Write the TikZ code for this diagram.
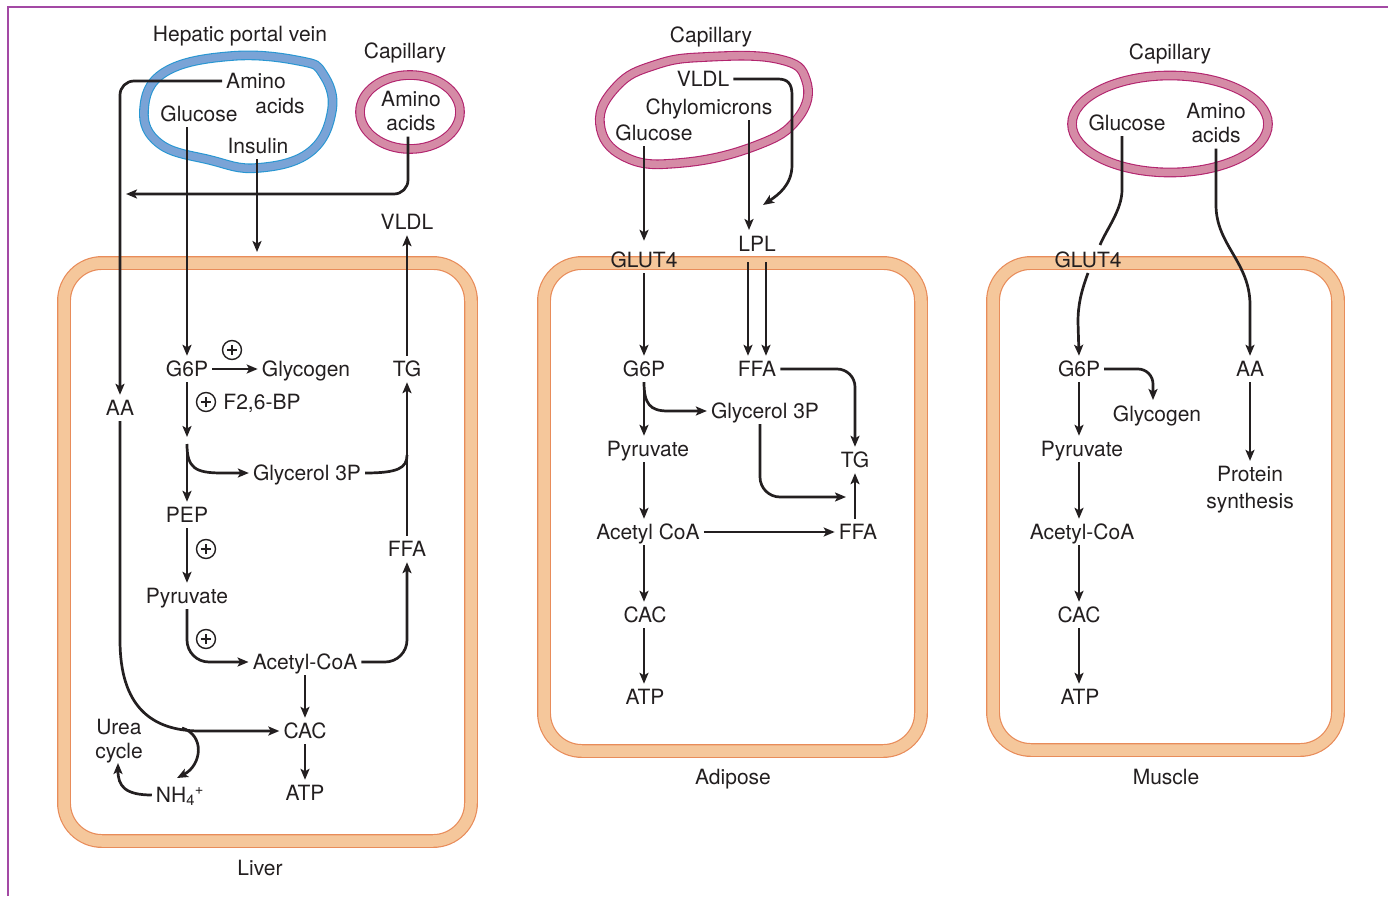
\documentclass[tikz,border=0pt]{standalone}
\usepackage{fontspec}
\setmainfont{TeX Gyre Heros}
\usetikzlibrary{arrows.meta}
\definecolor{ink}{RGB}{35,31,32}
\definecolor{orFill}{RGB}{245,199,155}
\definecolor{orEdge}{RGB}{232,140,90}
\definecolor{pkFill}{RGB}{213,139,166}
\definecolor{pkEdge}{RGB}{178,36,110}
\definecolor{blFill}{RGB}{122,163,214}
\definecolor{blEdge}{RGB}{40,150,210}
\definecolor{frame}{RGB}{163,73,164}
\begin{document}
\begin{tikzpicture}[x=1pt,y=-1pt,
  every node/.style={font=\fontsize{21}{24}\selectfont, text=ink},
  lab/.style={text height=15pt, text depth=0pt, inner xsep=4pt, inner ysep=5.5pt},
  mlab/.style={align=center, inner xsep=4pt, inner ysep=5.5pt},
  arr/.style={draw=ink, line width=2.7pt, -{Stealth[length=11pt,width=9pt,inset=2.5pt]}},
  ln/.style={draw=ink, line width=2.7pt},
  cellband/.style={draw=orEdge, line width=1.2pt, double=orFill, double distance=11.5pt, rounded corners=38pt},
  pkband/.style={draw=pkEdge, line width=1.1pt, double=pkFill, double distance=7.5pt},
  blband/.style={draw=blEdge, line width=1.1pt, double=blFill, double distance=7.5pt},
  pc/.style={circle, draw=ink, line width=1.4pt, minimum size=19pt, inner sep=0pt,
    path picture={\draw[ink, line width=1.8pt] ([xshift=-5pt]path picture bounding box.center) -- ([xshift=5pt]path picture bounding box.center);
                  \draw[ink, line width=1.8pt] ([yshift=-5pt]path picture bounding box.center) -- ([yshift=5pt]path picture bounding box.center);}}
]
\useasboundingbox (0,0) rectangle (1388,896);
% frame
\draw[frame, line width=2.6pt] (8,896) -- (8,7) -- (1388,7);

% cells
\draw[cellband] (64,263) rectangle (471,841);
\draw[cellband] (544,263) rectangle (921,751);
\draw[cellband] (993,263) rectangle (1338,750);

% vessels
\draw[blband] plot[smooth cycle, tension=0.7] coordinates {(232,56) (300,61) (323,74) (332,110) (310,152) (257,168) (210,160) (160,144) (144,110) (165,72)};
\draw[pkband] (410,112) ellipse [x radius=50, y radius=37];
\draw[pkband] plot[smooth cycle, tension=0.75] coordinates {(705,57) (778,59) (806,80) (798,118) (755,146) (680,163) (625,157) (600,124) (617,86) (655,65)};
\draw[pkband] (1170,124) ellipse [x radius=98, y radius=48.5];

% ---------------- Liver ----------------
\node[lab] (lhpv) at (240,34) {Hepatic portal vein};
\node[lab] (lcap) at (405,51) {Capillary};
\node[lab] (lamino) at (256,81) {Amino};
\node[lab] (lacids) at (280,106) {acids};
\node[lab] (lglu) at (199,114) {Glucose};
\node[lab] (lins) at (258,146) {Insulin};
\node[mlab] (lcapaa) at (411,111) {Amino\\acids};
\node[lab] (lVLDL) at (407,222) {VLDL};
\node[lab] (lg6p) at (187,369) {G6P};
\node[lab] (lglyc) at (306,369) {Glycogen};
\node[lab] (lTG) at (407,369) {TG};
\node[lab] (lAA) at (120,408) {AA};
\node[lab] (lf26) at (262,402) {F2,6-BP};
\node[lab] (lgly3) at (307,473) {Glycerol 3P};
\node[lab] (lPEP) at (187,515) {PEP};
\node[lab] (lFFA) at (407,549) {FFA};
\node[lab] (lpyr) at (187,596) {Pyruvate};
\node[lab] (lacc) at (305,662) {Acetyl-CoA};
\node[lab] (lCAC) at (305,731) {CAC};
\node[lab] (lATP) at (305,793) {ATP};
\node[lab] (lNH) at (180,795) {NH\textsubscript{4}\textsuperscript{+}};
\node[mlab] (lurea) at (119,741) {Urea\\cycle};
\node[lab] (lliver) at (260,868) {Liver};
\node[pc] (lp1) at (232,350) {};
\node[pc] (lp2) at (206,402) {};
\node[pc] (lp3) at (206,549) {};
\node[pc] (lp4) at (206,639) {};

\coordinate (lAAin) at (126,194);
\coordinate (linsend) at (257,252);
\coordinate (lmid1) at (187,437);
\coordinate (lmid2) at (187,444);
\coordinate (ljoin) at (407,455);
\coordinate (lcurve) at (200,731);
\coordinate (lbr) at (182,728);
\coordinate (lnhtip) at (177,778);
\coordinate (lureatip) at (118,763);

\draw[arr, rounded corners=14pt] (lamino.west) -| (lAA.north);
\draw[arr] (lAA.south) -- (120,640) .. controls (120,705) and (150,731) .. (lcurve) -- (lCAC.west);
\draw[arr] (lbr) .. controls (205,735) and (202,765) .. (lnhtip);
\draw[arr] (lNH.west) .. controls (125,795) and (118,786) .. (lureatip);
\draw[arr, rounded corners=14pt] ([xshift=-3pt]lcapaa.south) |- (lAAin);
\draw[arr] (lg6p |- lglu.south) -- (lg6p.north);
\draw[arr] (lins.south -| linsend) -- (linsend);
\draw[arr] (lTG.north) -- (lVLDL.south);
\draw[arr] (lg6p.east) -- (lglyc.west);
\draw[arr] (lg6p.south) -- (lmid1);
\draw[arr] (lmid2) -- (lPEP.north);
\draw[arr] (lmid2) .. controls (187,468) and (195,473) .. (222,473) -- (lgly3.west);
\draw[ln] (lgly3.east) .. controls (398,473) and (407,468) .. (ljoin);
\draw[arr] (lFFA.north) -- (lTG.south);
\draw[arr] (lPEP.south) -- (lpyr.north);
\draw[arr, rounded corners=22pt] (lpyr.south) |- (lacc.west);
\draw[arr, rounded corners=22pt] (lacc.east) -| (lFFA.south);
\draw[arr] (lacc.south) -- (lCAC.north);
\draw[arr] (lCAC.south) -- (lATP.north);

% ---------------- Adipose ----------------
\node[lab] (acap) at (711,35) {Capillary};
\node[lab] (aVLDL) at (703,79) {VLDL};
\node[lab] (achy) at (709,107) {Chylomicrons};
\node[lab] (aglu) at (654,133) {Glucose};
\node[lab] (aLPL) at (757,244) {LPL};
\node[lab] (aGLUT) at (644,260) {GLUT4};
\node[lab] (aG6P) at (644,369) {G6P};
\node[lab] (aFFA) at (757,369) {FFA};
\node[lab] (agly3) at (765,411) {Glycerol 3P};
\node[lab] (apyr) at (648,449) {Pyruvate};
\node[lab] (aTG) at (855,460) {TG};
\node[lab] (aacc) at (648,532) {Acetyl CoA};
\node[lab] (aFFA2) at (858,532) {FFA};
\node[lab] (aCAC) at (645,615) {CAC};
\node[lab] (aATP) at (645,697) {ATP};
\node[lab] (aname) at (733,777) {Adipose};

\coordinate (aLPLtop) at (749,230);
\coordinate (avl) at (763,205);
\coordinate (aTGin) at (846,497);

\draw[arr] (aVLDL.east) -- (778,79) .. controls (788,79) and (792,84) .. (792,95) -- (792,165) .. controls (792,185) and (778,195) .. (avl);
\draw[arr] (achy.south -| aLPLtop) -- (aLPLtop);
\draw[arr, shorten >=6pt] (aGLUT |- aglu.south) -- (aGLUT.north);
\draw[arr] (aGLUT.south) -- (aG6P.north);
\draw[arr, shorten <=5pt] ([xshift=-9pt]aLPL.south) -- ([xshift=-9pt]aFFA.north);
\draw[arr, shorten <=5pt] ([xshift=9pt]aLPL.south) -- ([xshift=9pt]aFFA.north);
\draw[arr] (aG6P.south) -- (aG6P.south |- apyr.north);
\draw[arr] (aG6P.south) .. controls (644,404) and (650,411) .. (668,411) -- (agly3.west);
\draw[arr, rounded corners=18pt] (aFFA.east) -| (aTG.north);
\draw[arr, rounded corners=20pt] ([xshift=-5pt]agly3.south) |- (aTGin);
\draw[arr] (aFFA2.north -| aTG) -- (aTG.south);
\draw[arr] (aG6P |- apyr.south) -- (aG6P |- aacc.north);
\draw[arr] (aacc.east) -- (aFFA2.west);
\draw[arr] (aG6P |- aacc.south) -- (aG6P |- aCAC.north);
\draw[arr] (aG6P |- aCAC.south) -- (aG6P |- aATP.north);

% ---------------- Muscle ----------------
\node[lab] (mcap) at (1170,52) {Capillary};
\node[lab] (mglu) at (1127,123) {Glucose};
\node[mlab] (maa1) at (1216,123) {Amino\\acids};
\node[lab] (mGLUT) at (1088,260) {GLUT4};
\node[lab] (mG6P) at (1079,369) {G6P};
\node[lab] (mAA) at (1250,369) {AA};
\node[lab] (mglyc) at (1157,414) {Glycogen};
\node[lab] (mpyr) at (1082,449) {Pyruvate};
\node[align=center, inner xsep=4pt, inner ysep=5.5pt] (mprot) at (1250,490) {Protein\\[3pt]synthesis};
\node[lab] (macc) at (1082,532) {Acetyl-CoA};
\node[lab] (mCAC) at (1079,615) {CAC};
\node[lab] (mATP) at (1080,697) {ATP};
\node[lab] (mname) at (1166,777) {Muscle};

\coordinate (mgA) at (1122,190);
\coordinate (mgB) at (1100,245);
\coordinate (mgC) at (1088,273);
\coordinate (mglyctop) at (1153,400);

\draw[ln] (mglu.south -| mgA) -- (mgA) .. controls (1122,210) and (1106,230) .. (mgB);
\draw[arr] (mgC) .. controls (1081,292) and (1078,305) .. (1078,322) -- (mG6P.north);
\draw[arr] (maa1.south) -- (1216,205) .. controls (1216,245) and (1250,262) .. (1250,305) -- (mAA.north);
\draw[arr] (mAA.south) -- (mprot.north);
\draw[arr, rounded corners=15pt] (mG6P.east) -| (mglyctop);
\draw[arr] (mG6P.south) -- (mG6P |- mpyr.north);
\draw[arr] (mG6P |- mpyr.south) -- (mG6P |- macc.north);
\draw[arr] (mG6P |- macc.south) -- (mCAC.north);
\draw[arr] (mCAC.south) -- (mCAC.south |- mATP.north);
\end{tikzpicture}
\end{document}
